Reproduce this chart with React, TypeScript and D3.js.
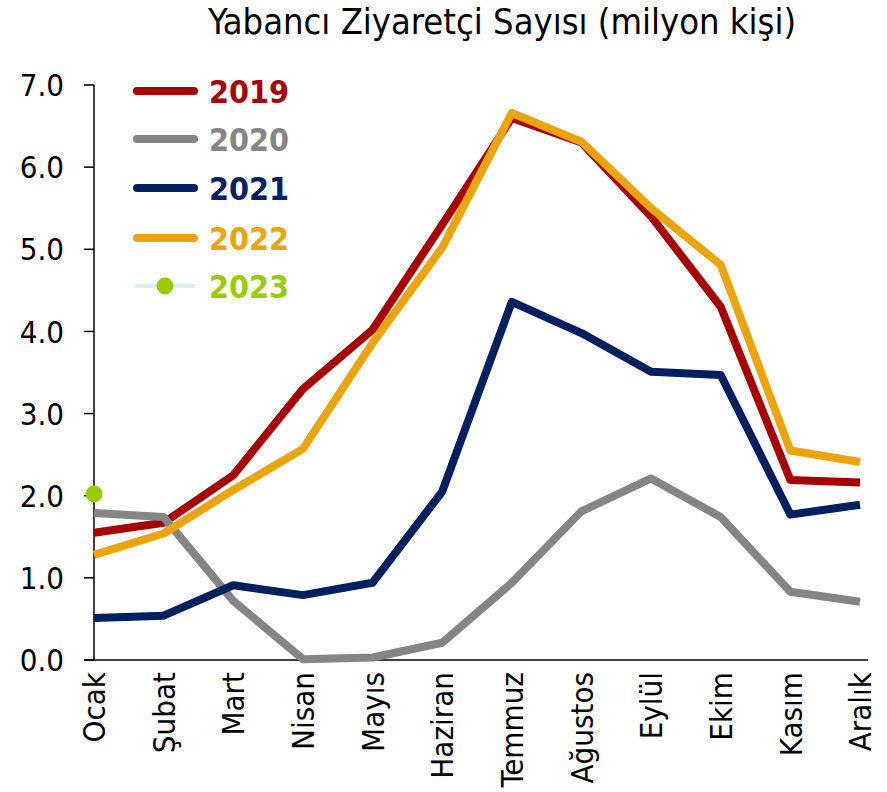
import React from "react";
import * as d3 from "d3";

const months = ["Ocak", "Şubat", "Mart", "Nisan", "Mayıs", "Haziran", "Temmuz", "Ağustos", "Eylül", "Ekim", "Kasım", "Aralık"];
const yTicks = [0, 1, 2, 3, 4, 5, 6, 7];
const v2019 = [1.55, 1.67, 2.25, 3.3, 4.02, 5.3, 6.6, 6.3, 5.4, 4.3, 2.19, 2.16];
const v2020 = [1.79, 1.74, 0.72, 0.01, 0.03, 0.21, 0.94, 1.81, 2.21, 1.74, 0.83, 0.71];
const v2021 = [0.51, 0.54, 0.91, 0.79, 0.94, 2.05, 4.36, 3.98, 3.51, 3.47, 1.77, 1.89];
const v2022 = [1.28, 1.54, 2.07, 2.57, 3.86, 5.02, 6.66, 6.31, 5.5, 4.81, 2.55, 2.41];
const v2023 = [2.02];
const seriesNames = ["2019", "2020", "2021", "2022", "2023"];
const seriesColors = ["#A60000", "#858585", "#00205F", "#EBA40C", "#99CC00"];

const FONT = "'DejaVu Sans', Verdana, sans-serif";

export default function App() {
  const W = 887, H = 792;
  const x = d3.scalePoint<string>().domain(months).range([94, 860]);
  const y = d3.scaleLinear().domain([0, 7]).range([660, 85]);
  const line = d3.line<number>().x((_, i) => x(months[i])!).y((d) => y(d));
  const lines = [v2019, v2020, v2021, v2022];
  const legendY = [91, 139, 188, 238, 286];

  return (
    <svg width={W} height={H} style={{ position: "absolute", left: 0, top: 0, background: "#fff" }}>
      <g style={{ fontFamily: FONT, fontStretch: "condensed" }}>
        <text x={502} y={34} textAnchor="middle" fontSize={36} fill="#000">
          Yabancı Ziyaretçi Sayısı (milyon kişi)
        </text>
        {/* y axis */}
        <line x1={94} x2={94} y1={y(7)} y2={y(0)} stroke="#000" strokeWidth={1.5} />
        {yTicks.map((t) => (
          <g key={t}>
            <line x1={84} x2={94} y1={y(t)} y2={y(t)} stroke="#000" strokeWidth={1.5} />
            <text x={64} y={y(t)} dy="0.36em" textAnchor="end" fontSize={31} fill="#000">
              {d3.format(".1f")(t)}
            </text>
          </g>
        ))}
        {/* x axis */}
        <line x1={84} x2={868} y1={y(0)} y2={y(0)} stroke="#000" strokeWidth={1.5} />
        {months.map((m) => (
          <text
            key={m}
            transform={`translate(${x(m)},672) rotate(-90)`}
            dy="0.36em"
            textAnchor="end"
            fontSize={31}
            fill="#000"
          >
            {m}
          </text>
        ))}
        {lines.map((vals, i) => (
          <path key={i} d={line(vals)!} fill="none" stroke={seriesColors[i]} strokeWidth={8} strokeLinejoin="round" />
        ))}
        {v2023.map((v, i) => (
          <circle key={i} cx={x(months[i])!} cy={y(v)} r={8.5} fill={seriesColors[4]} />
        ))}
        {/* legend */}
        {seriesNames.map((n, i) => (
          <g key={n}>
            {i < 4 ? (
              <line x1={137} x2={194} y1={legendY[i]} y2={legendY[i]} stroke={seriesColors[i]} strokeWidth={8} strokeLinecap="round" />
            ) : (
              <g>
                <line x1={137} x2={194} y1={legendY[i]} y2={legendY[i]} stroke="#DAEEF3" strokeWidth={4} strokeLinecap="round" />
                <circle cx={165} cy={legendY[i]} r={8.5} fill={seriesColors[4]} />
              </g>
            )}
            <text x={209} y={legendY[i]} dy="0.36em" fontSize={32} fontWeight="bold" fill={seriesColors[i]}>
              {n}
            </text>
          </g>
        ))}
      </g>
    </svg>
  );
}
